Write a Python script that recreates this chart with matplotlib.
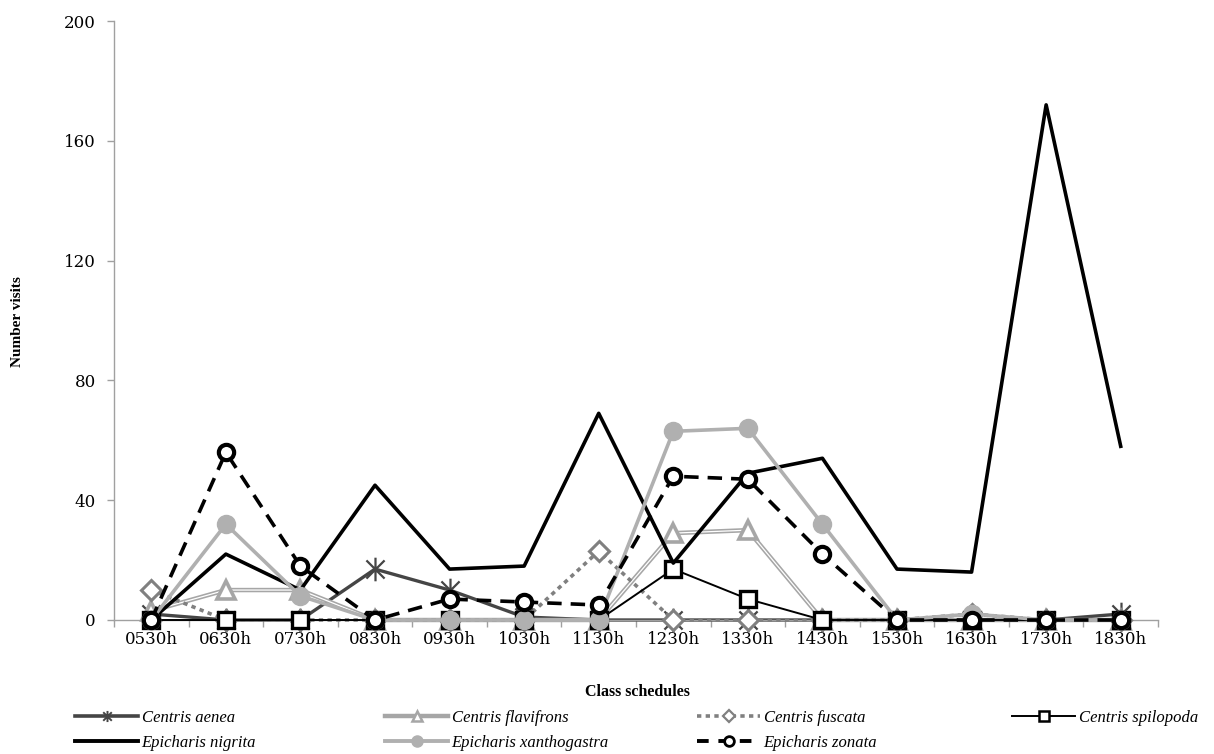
import matplotlib
matplotlib.use("Agg")
import matplotlib.pyplot as plt
from matplotlib.lines import Line2D
from matplotlib.path import Path

categories = ["0530h", "0630h", "0730h", "0830h", "0930h", "1030h", "1130h",
              "1230h", "1330h", "1430h", "1530h", "1630h", "1730h", "1830h"]

centris_aenea = [2, 0, 0, 17, 10, 1, 0, 0, 0, 0, 0, 0, 0, 2]
centris_flavifrons = [3, 10, 10, 0, 0, 0, 0, 29, 30, 0, 0, 0, 0, 0]
centris_fuscata = [10, 0, 0, 0, 0, 0, 23, 0, 0, 0, 0, 2, 0, 0]
centris_spilopoda = [0, 0, 0, 0, 0, 0, 0, 17, 7, 0, 0, 0, 0, 0]
epicharis_nigrita = [0, 22, 10, 45, 17, 18, 69, 19, 49, 54, 17, 16, 172, 58]
epicharis_xanthogastra = [0, 32, 8, 0, 0, 0, 0, 63, 64, 32, 0, 2, 0, 0]
epicharis_zonata = [0, 56, 18, 0, 7, 6, 5, 48, 47, 22, 0, 0, 0, 0]

yticks = [0, 40, 80, 120, 160, 200]

serif = ["Liberation Serif", "DejaVu Serif"]
wide_serif = ["DejaVu Serif"]

# asterisk marker: x plus vertical bar
star_path = Path([(-1, -1), (1, 1), (-1, 1), (1, -1), (0, -1.3), (0, 1.3)],
                 [Path.MOVETO, Path.LINETO, Path.MOVETO, Path.LINETO, Path.MOVETO, Path.LINETO])

fig = plt.figure(figsize=(12.14, 7.54), dpi=100)
ax = fig.add_axes([114 / 1214, 1 - 620 / 754, (1158 - 114) / 1214, (620 - 21) / 754])

x = list(range(len(categories)))

c_aenea = "#454545"
c_flav = "#a6a6a6"
c_fusc = "#808080"
c_xan = "#b0b0b0"

# Centris aenea
ax.plot(x, centris_aenea, color=c_aenea, lw=2.4, marker=star_path, ms=17,
        mew=1.6, mec=c_aenea, zorder=2)
# Centris flavifrons (double line)
ax.plot(x, centris_flavifrons, color=c_flav, lw=3.2, zorder=3)
ax.plot(x, centris_flavifrons, color="white", lw=0.9, zorder=3.1)
ax.plot(x, centris_flavifrons, color=c_flav, lw=0, marker="^", ms=13, mfc="white",
        mec=c_flav, mew=2.6, zorder=3.2)
# Centris fuscata
ax.plot(x, centris_fuscata, color=c_fusc, lw=2.6, ls=(0, (1.2, 1.2)), marker="D", ms=10,
        mfc="white", mec=c_fusc, mew=2.2, zorder=4)
# Centris spilopoda
ax.plot(x, centris_spilopoda, color="black", lw=1.4, marker="s", ms=11, mfc="white",
        mec="black", mew=2.4, zorder=5)
# Epicharis nigrita
ax.plot(x, epicharis_nigrita, color="black", lw=2.6, zorder=6)
# Epicharis xanthogastra
ax.plot(x, epicharis_xanthogastra, color=c_xan, lw=2.6, marker="o", ms=13,
        mfc=c_xan, mec=c_xan, zorder=7)
# Epicharis zonata
ax.plot(x, epicharis_zonata, color="black", lw=2.6, ls=(0, (4, 2.5)), marker="o", ms=11,
        mfc="white", mec="black", mew=3, zorder=8)

ax.set_xlim(-0.5, 13.5)
ax.set_ylim(0, 200)
ax.set_xticks(x)
ax.set_xticklabels(categories, fontfamily=wide_serif, fontsize=12)
ax.set_xticks([i - 0.5 for i in range(len(categories) + 1)], minor=True)
ax.tick_params(axis="x", which="major", length=0, pad=8)
ax.tick_params(axis="x", which="minor", length=5, color="#a0a0a0", width=1)
ax.set_yticks(yticks)
ax.set_yticklabels([str(v) for v in yticks], fontfamily=wide_serif, fontsize=12)
ax.tick_params(axis="y", length=5, color="#a0a0a0", width=1, pad=8)

for s in ["top", "right"]:
    ax.spines[s].set_visible(False)
for s in ["left", "bottom"]:
    ax.spines[s].set_color("#a0a0a0")
    ax.spines[s].set_linewidth(1)
for ln in ax.lines:
    ln.set_clip_on(False)

fig.text(18 / 1214, 1 - 322 / 754, "Number visits", rotation=90, ha="center", va="center",
         fontfamily=serif, fontweight="bold", fontsize=11)
fig.text(637 / 1214, 1 - 692 / 754, "Class schedules", ha="center", va="center",
         fontfamily=serif, fontweight="bold", fontsize=11.5)

# Legend
def h(**kw):
    return Line2D([0], [0], **kw)

entries = [
    (h(color=c_aenea, lw=2.6, marker=star_path, ms=8, mew=1.4, mec=c_aenea), "Centris aenea", 75, 718),
    (h(color=c_flav, lw=3.2, marker="^", ms=7, mfc="white", mec=c_flav, mew=1.8), "Centris flavifrons", 385, 718),
    (h(color=c_fusc, lw=2.6, ls=(0, (1.2, 1.2)), marker="D", ms=6, mfc="white", mec=c_fusc, mew=1.6), "Centris fuscata", 697, 718),
    (h(color="black", lw=1.4, marker="s", ms=7, mfc="white", mec="black", mew=1.8), "Centris spilopoda", 1012, 718),
    (h(color="black", lw=2.8), "Epicharis nigrita", 75, 743),
    (h(color=c_xan, lw=2.8, marker="o", ms=8, mfc=c_xan, mec=c_xan), "Epicharis xanthogastra", 385, 743),
    (h(color="black", lw=2.8, ls=(0, (3, 2.5)), marker="o", ms=7, mfc="white", mec="black", mew=2), "Epicharis zonata", 697, 743),
]
for handle, label, px, py in entries:
    fig.legend([handle], [label], loc="center left",
               bbox_to_anchor=(px / 1214, 1 - py / 754), frameon=False,
               handlelength=3.8, handletextpad=0.2, borderpad=0, borderaxespad=0,
               prop={"family": serif, "style": "italic", "size": 12})

fig.savefig("out.png", dpi=100)
